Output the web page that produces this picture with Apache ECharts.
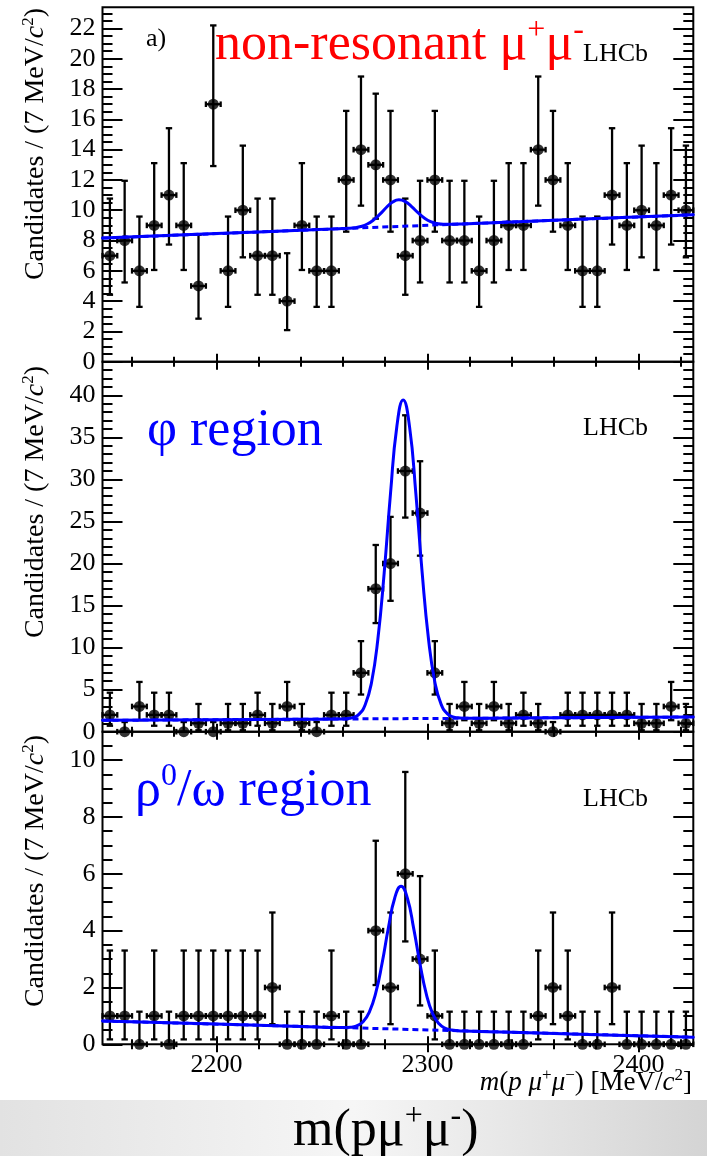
<!DOCTYPE html>
<html>
<head>
<meta charset="utf-8">
<script src="https://cdn.jsdelivr.net/npm/echarts@6/dist/echarts.min.js"></script>
<style>
html, body { margin: 0; padding: 0; background: #fff; }
#main { width: 707px; height: 1156px; }
</style>
</head>
<body>
<div id="main"></div>
<script>
// m(p mu+ mu-) bin centres, 7 MeV/c^2 bins
const binCenters = [2149.5, 2156.5, 2163.5, 2170.5, 2177.5, 2184.5, 2191.5, 2198.5, 2205.5, 2212.5,
  2219.5, 2226.5, 2233.5, 2240.5, 2247.5, 2254.5, 2261.5, 2268.5, 2275.5, 2282.5,
  2289.5, 2296.5, 2303.5, 2310.5, 2317.5, 2324.5, 2331.5, 2338.5, 2345.5, 2352.5,
  2359.5, 2366.5, 2373.5, 2380.5, 2387.5, 2394.5, 2401.5, 2408.5, 2415.5, 2422.5];
const BIN_WIDTH = 7;
const massMin = 2146;
const massMax = 2426;
const xMajorTicks = [2200, 2300, 2400];
const xMinorTicks = [2160, 2180, 2220, 2240, 2260, 2280, 2320, 2340, 2360, 2380, 2420];

// candidates per bin
const countsNonRes = [7, 8, 6, 9, 11, 9, 5, 17, 6, 10, 7, 7, 4, 9, 6, 6, 12, 14, 13, 12,
  7, 8, 12, 8, 8, 6, 8, 9, 9, 14, 12, 9, 6, 6, 11, 9, 10, 9, 11, 10];
const countsPhi = [2, 0, 3, 2, 2, 0, 1, 0, 1, 1, 2, 1, 3, 1, 0, 2, 2, 7, 17, 20,
  31, 26, 7, 1, 3, 1, 3, 1, 2, 1, 0, 2, 2, 2, 2, 2, 1, 1, 3, 1];
const countsRho = [1, 1, 0, 1, 0, 1, 1, 1, 1, 1, 1, 2, 0, 0, 0, 1, 0, 0, 4, 2,
  6, 3, 1, 0, 0, 0, 0, 0, 0, 1, 2, 1, 0, 0, 2, 0, 0, 0, 0, 0];

// total fit curves (signal + background)
const fitNonResX = [2146, 2200, 2240, 2256.5, 2259.5, 2262.5, 2265.5, 2268.5, 2271.5, 2274.5, 2277.5, 2280.5, 2283.5,
  2286.5, 2289.5, 2292.5, 2295.5, 2298.5, 2301.5, 2304.5, 2307.5, 2310.5, 2313.5, 2316.5, 2340, 2380, 2426];
const fitNonResY = [8.16, 8.46, 8.68, 8.77, 8.79, 8.81, 8.85, 8.93, 9.09, 9.36, 9.74, 10.18, 10.54,
  10.69, 10.57, 10.24, 9.84, 9.49, 9.25, 9.13, 9.08, 9.08, 9.08, 9.10, 9.23, 9.45, 9.70];
const fitPhiX = [2146, 2200, 2240, 2258.5, 2261.5, 2264.5, 2267.5, 2270.5, 2273.5, 2276.5, 2279.5, 2282.5, 2285.5,
  2288.5, 2291.5, 2294.5, 2297.5, 2300.5, 2303.5, 2306.5, 2309.5, 2312.5, 2315.5, 2318.5, 2340, 2380, 2426];
const fitPhiY = [1.35, 1.43, 1.48, 1.52, 1.55, 1.67, 2.06, 3.20, 5.86, 10.99, 18.89, 28.33, 36.30,
  39.45, 36.31, 28.34, 18.92, 11.02, 5.91, 3.25, 2.12, 1.74, 1.63, 1.60, 1.63, 1.68, 1.75];
const fitRhoX = [2146, 2200, 2240, 2257.5, 2260.5, 2263.5, 2266.5, 2269.5, 2272.5, 2275.5, 2278.5, 2281.5, 2284.5,
  2287.5, 2290.5, 2293.5, 2296.5, 2299.5, 2302.5, 2305.5, 2308.5, 2311.5, 2314.5, 2317.5, 2340, 2380, 2426];
const fitRhoY = [0.82, 0.71, 0.63, 0.59, 0.59, 0.60, 0.65, 0.79, 1.14, 1.81, 2.85, 4.10, 5.15,
  5.56, 5.14, 4.07, 2.82, 1.76, 1.07, 0.72, 0.56, 0.50, 0.48, 0.47, 0.42, 0.34, 0.25];

// background components
const bkgX = [2146, 2426];
const bkgNonResY = [8.16, 9.70];
const bkgPhiY = [1.35, 1.75];
const bkgRhoY = [0.82, 0.25];

// y-axis labelled ticks
const yTicksNonRes = [0, 2, 4, 6, 8, 10, 12, 14, 16, 18, 20, 22];
const yTicksPhi = [0, 5, 10, 15, 20, 25, 30, 35, 40];
const yTicksRho = [0, 2, 4, 6, 8, 10];

const serif = 'Liberation Serif';
const BLUE = '#0000ff';

// 68.27% central Poisson interval for an observed count
const ALPHA = 0.158655;
function poissonCdf(n, mu) {
  let term = Math.exp(-mu), sum = term;
  for (let k = 1; k <= n; k++) { term *= mu / k; sum += term; }
  return sum;
}
function solveDecreasing(f, target, lo, hi) {
  for (let i = 0; i < 80; i++) {
    const mid = 0.5 * (lo + hi);
    if (f(mid) > target) lo = mid; else hi = mid;
  }
  return 0.5 * (lo + hi);
}
function poissonInterval(n) {
  if (n === 0) return [0, -Math.log(2 * ALPHA)];
  const hi = solveDecreasing(mu => poissonCdf(n, mu), ALPHA, 0, n + 30);
  const lo = solveDecreasing(mu => poissonCdf(n - 1, mu), 1 - ALPHA, 0, n);
  return [lo, hi];
}

function minorTicks(max, step, majors) {
  const out = [];
  for (let k = 1; k * step <= max + 1e-9; k++) {
    const v = Math.round(k * step * 1000) / 1000;
    if (!majors.some(m => Math.abs(m - v) < 1e-6)) out.push(v);
  }
  return out;
}

const panels = [
  { counts: countsNonRes, fitX: fitNonResX, fitY: fitNonResY, bkgY: bkgNonResY,
    yMax: 23.4, yTicks: yTicksNonRes, yMinorStep: 0.5, top: 7.3, height: 354.4 },
  { counts: countsPhi, fitX: fitPhiX, fitY: fitPhiY, bkgY: bkgPhiY,
    yMax: 44, yTicks: yTicksPhi, yMinorStep: 1, top: 361.7, height: 370 },
  { counts: countsRho, fitX: fitRhoX, fitY: fitRhoY, bkgY: bkgRhoY,
    yMax: 11, yTicks: yTicksRho, yMinorStep: 0.5, top: 731.7, height: 312.6 }
];

const tickLine = { color: '#000', width: 2 };
const labelFont = { fontFamily: serif, fontSize: 26, color: '#000', formatter: v => String(v) };

const grids = [], xAxes = [], yAxes = [], series = [];

panels.forEach((cfg, p) => {
  grids.push({ left: 102.5, right: 13.7, top: cfg.top, height: cfg.height,
    show: true, borderColor: '#000', borderWidth: 2, backgroundColor: 'transparent' });

  const xBase = { gridIndex: p, type: 'value', min: massMin, max: massMax,
    axisLine: { show: false }, splitLine: { show: false } };
  xAxes.push(Object.assign({}, xBase, { position: 'bottom',
    axisTick: { inside: true, length: 8, customValues: xMajorTicks, lineStyle: tickLine },
    axisLabel: Object.assign({ show: p === 2, customValues: xMajorTicks, margin: 8 }, labelFont) }));
  xAxes.push(Object.assign({}, xBase, { position: 'bottom',
    axisTick: { inside: true, length: 5, customValues: xMinorTicks, lineStyle: tickLine },
    axisLabel: { show: false } }));
  xAxes.push(Object.assign({}, xBase, { position: 'top',
    axisTick: { inside: true, length: 8, customValues: xMajorTicks, lineStyle: tickLine },
    axisLabel: { show: false } }));
  xAxes.push(Object.assign({}, xBase, { position: 'top',
    axisTick: { inside: true, length: 5, customValues: xMinorTicks, lineStyle: tickLine },
    axisLabel: { show: false } }));

  const yMinor = minorTicks(cfg.yMax, cfg.yMinorStep, cfg.yTicks);
  const yBase = { gridIndex: p, type: 'value', min: 0, max: cfg.yMax,
    axisLine: { show: false }, splitLine: { show: false } };
  yAxes.push(Object.assign({}, yBase, { position: 'left',
    axisTick: { inside: true, length: 20, customValues: cfg.yTicks, lineStyle: tickLine },
    axisLabel: Object.assign({ customValues: cfg.yTicks, margin: 7 }, labelFont) }));
  yAxes.push(Object.assign({}, yBase, { position: 'left',
    axisTick: { inside: true, length: 10, customValues: yMinor, lineStyle: tickLine },
    axisLabel: { show: false } }));
  yAxes.push(Object.assign({}, yBase, { position: 'right',
    axisTick: { inside: true, length: 20, customValues: cfg.yTicks, lineStyle: tickLine },
    axisLabel: { show: false } }));
  yAxes.push(Object.assign({}, yBase, { position: 'right',
    axisTick: { inside: true, length: 10, customValues: yMinor, lineStyle: tickLine },
    axisLabel: { show: false } }));

  const xi = p * 4, yi = p * 4;

  // data error bars
  series.push({
    type: 'custom', xAxisIndex: xi, yAxisIndex: yi, clip: false, z: 3,
    encode: { x: 0, y: 1 },
    data: cfg.counts.map((n, i) => {
      const iv = poissonInterval(n);
      return [binCenters[i], n, iv[0], iv[1]];
    }),
    renderItem: function (params, api) {
      const x = api.value(0), y = api.value(1), lo = api.value(2), hi = api.value(3);
      const pt = api.coord([x, hi]);
      const pb = api.coord([x, lo]);
      const pl = api.coord([x - BIN_WIDTH / 2, y]);
      const pr = api.coord([x + BIN_WIDTH / 2, y]);
      const st = { stroke: '#000', lineWidth: 2.3 };
      const cap = 3.2, vcap = 2.8;
      const seg = (x1, y1, x2, y2) => ({ type: 'line', shape: { x1, y1, x2, y2 }, style: st });
      return { type: 'group', children: [
        seg(pt[0], pt[1], pb[0], pb[1]),
        seg(pt[0] - cap, pt[1], pt[0] + cap, pt[1]),
        seg(pb[0] - cap, pb[1], pb[0] + cap, pb[1]),
        seg(pl[0], pl[1], pr[0], pr[1]),
        seg(pl[0], pl[1] - vcap, pl[0], pl[1] + vcap),
        seg(pr[0], pr[1] - vcap, pr[0], pr[1] + vcap)
      ] };
    }
  });

  // data points
  series.push({
    type: 'scatter', xAxisIndex: xi, yAxisIndex: yi, clip: false, z: 4,
    symbol: 'circle', symbolSize: 11, itemStyle: { color: '#000' },
    data: cfg.counts.map((n, i) => [binCenters[i], n])
  });

  // background component
  series.push({
    type: 'line', xAxisIndex: xi, yAxisIndex: yi, z: 5, showSymbol: false, silent: true,
    lineStyle: { color: BLUE, width: 3, type: [6, 4] },
    data: bkgX.map((x, i) => [x, cfg.bkgY[i]])
  });

  // total fit
  series.push({
    type: 'line', xAxisIndex: xi, yAxisIndex: yi, z: 6, showSymbol: false, silent: true,
    smooth: 0.5,
    lineStyle: { color: BLUE, width: 3, join: 'round', cap: 'round' },
    data: cfg.fitX.map((x, i) => [x, cfg.fitY[i]])
  });
});

// rich-text helpers (superscripts, italics)
function rich(size, color) {
  const lh = Math.round(size * 1.15);
  const raise = size * 0.25;
  return {
    n: { fontFamily: serif, fontSize: size, fill: color, lineHeight: lh },
    i: { fontFamily: serif, fontSize: size, fill: color, fontStyle: 'italic', lineHeight: lh },
    s: { fontFamily: serif, fontSize: Math.round(size * 0.62), fill: color,
         lineHeight: lh - 2 * raise, verticalAlign: 'top' }
  };
}
function textEl(x, y, text, size, color, extra) {
  return Object.assign({
    type: 'text', x: x, y: y, z: 20,
    style: Object.assign({ text: text, rich: rich(size, color), align: 'left', verticalAlign: 'middle',
      fontFamily: serif, fontSize: size, fill: color }, (extra && extra.style) || {})
  }, extra && extra.el ? extra.el : {});
}

const yTitle = '{n|Candidates / (7 MeV/}{i|c}{s|2}{n|)}';
const rotated = { style: { align: 'right' }, el: { rotation: Math.PI / 2 } };
const graphics = [
  // lower strip
  { type: 'rect', z: 0, shape: { x: 0, y: 1100, width: 707, height: 56 },
    style: { fill: new echarts.graphic.LinearGradient(0, 0, 1, 0, [
      { offset: 0, color: '#e2e2e2' }, { offset: 0.5, color: '#f6f6f6' }, { offset: 1, color: '#d4d4d4' }]) } },
  textEl(36, 8, yTitle, 28, '#000', rotated),
  textEl(36, 366, yTitle, 28, '#000', rotated),
  textEl(36, 735, yTitle, 28, '#000', rotated),
  textEl(146, 39, '{n|a)}', 26, '#000'),
  textEl(215, 45, '{n|non-resonant μ}{s|+}{n|μ}{s|-}', 52, '#ff0000'),
  textEl(583, 54, '{n|LHCb}', 26, '#000'),
  textEl(147, 431, '{n|φ region}', 52, BLUE),
  textEl(583, 428, '{n|LHCb}', 26, '#000'),
  textEl(135, 791, '{n|ρ}{s|0}{n|/ω region}', 52, BLUE),
  textEl(583, 799, '{n|LHCb}', 26, '#000'),
  textEl(692, 1083, '{i|m}{n|(}{i|p μ}{s|+}{i|μ}{s|−}{n|) [MeV/}{i|c}{s|2}{n|]}', 27, '#000',
    { style: { align: 'right' } }),
  textEl(293, 1131, '{n|m(pμ}{s|+}{n|μ}{s|-}{n|)}', 52, '#000')
];

const chart = echarts.init(document.getElementById('main'), null, { renderer: 'canvas' });
chart.setOption({
  animation: false,
  backgroundColor: '#fff',
  grid: grids,
  xAxis: xAxes,
  yAxis: yAxes,
  series: series,
  graphic: graphics
});
</script>
</body>
</html>
